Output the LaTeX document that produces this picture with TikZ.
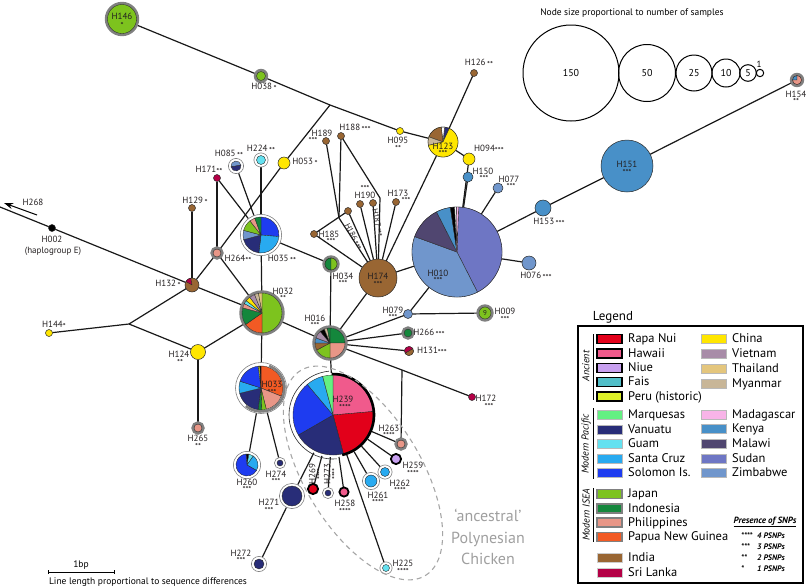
\documentclass[tikz,border=0pt]{standalone}
\usepackage{fontspec}
\setmainfont{PT Sans}
\usetikzlibrary{arrows.meta}
\definecolor{rapanui}{RGB}{226,0,26}
\definecolor{hawaii}{RGB}{240,90,140}
\definecolor{niue}{RGB}{200,160,240}
\definecolor{fais}{RGB}{80,190,200}
\definecolor{peru}{RGB}{220,240,40}
\definecolor{marq}{RGB}{100,240,130}
\definecolor{vanuatu}{RGB}{40,45,120}
\definecolor{guam}{RGB}{100,225,240}
\definecolor{santacruz}{RGB}{40,170,240}
\definecolor{solomon}{RGB}{30,60,240}
\definecolor{japan}{RGB}{125,195,30}
\definecolor{indonesia}{RGB}{20,135,60}
\definecolor{philip}{RGB}{232,150,135}
\definecolor{png}{RGB}{242,90,36}
\definecolor{india}{RGB}{153,102,51}
\definecolor{srilanka}{RGB}{180,0,70}
\definecolor{china}{RGB}{255,230,0}
\definecolor{vietnam}{RGB}{168,140,168}
\definecolor{thailand}{RGB}{228,198,125}
\definecolor{myanmar}{RGB}{200,182,152}
\definecolor{madag}{RGB}{248,180,232}
\definecolor{kenya}{RGB}{72,144,200}
\definecolor{malawi}{RGB}{80,70,112}
\definecolor{sudan}{RGB}{110,118,196}
\definecolor{zimb}{RGB}{112,150,204}
\definecolor{ringgray}{RGB}{128,128,128}
\definecolor{pieline}{RGB}{40,40,40}
\definecolor{labcol}{RGB}{35,31,32}
\pgfdeclarelayer{background}
\pgfsetlayers{background,main}
\newcommand\pieS[3]{%
  \foreach \pa/\pb/\pc in {#3}{%
    \filldraw[fill=\pc, draw=pieline, line width=0.35pt, line join=round]
      (#1.center) -- ++(\pa:#2pt) arc[start angle=\pa, end angle=\pb, radius=#2pt] -- cycle;}}
\newcommand\diskS[3]{\filldraw[fill=#3, draw=pieline, line width=0.4pt] (#1.center) circle[radius=#2pt];}
\newcommand\ringS[2]{\draw[pieline, line width=0.35pt] (#1.center) circle[radius=#2pt];}
\newcommand\sts[1]{\raisebox{-1.6pt}{\fontsize{8.5}{9}\selectfont #1}}
\tikzset{
 hapA/.style={circle, inner sep=0pt, outer sep=0pt, draw=pieline, line width=0.5pt},
 hapG/.style={circle, inner sep=0pt, outer sep=0pt, draw=ringgray, line width=2.6pt},
 hapW/.style={circle, inner sep=0pt, outer sep=0pt, draw=ringgray, line width=0.6pt, fill=white},
 hapB/.style={circle, inner sep=0pt, outer sep=0pt, draw=black, line width=1.8pt},
 edge/.style={line width=1.2pt, draw=black!90},
 lab/.style={inner sep=0pt, font=\fontsize{9}{10}\selectfont, text=labcol},
 star/.style={inner sep=0pt, font=\fontsize{8.5}{9}\selectfont, text=labcol},
 sz/.style={circle, draw=black, line width=1pt, inner sep=0pt, font=\fontsize{10}{11}\selectfont},
 legtxt/.style={inner sep=0pt, anchor=west, font=\fontsize{12.5}{14}\selectfont, text height=9pt, text depth=2pt},
}
\begin{document}
\begin{tikzpicture}[x=1pt,y=-1pt]
\useasboundingbox (0,0) rectangle (807,587);
% ---------- size legend
\node[font=\fontsize{9.5}{11}\selectfont, inner sep=0pt] (sizetitle) at (632,13) {Node size proportional to number of samples};
\node[sz, minimum size=96pt] (s150) at (571,73) {150};
\node[sz, minimum size=57pt] (s50) at (647,73) {50};
\node[sz, minimum size=36pt] (s25) at (694,73) {25};
\node[sz, minimum size=28pt] (s10) at (726,73) {10};
\node[sz, minimum size=16.6pt] (s5) at (748,73) {5};
\node[sz, minimum size=7.4pt] (s1) at (760,73) {};
\node[font=\fontsize{9}{10}\selectfont, inner sep=0pt] (s1lab) at (759,64) {1};
% ---------- junctions
\coordinate (J0) at (330,105);
\coordinate (J1) at (339,218);
\coordinate (J2) at (129,324);
\coordinate (J3) at (402,370);
\coordinate (J4) at (380,198);
\coordinate (Wend) at (0,207);
\coordinate (A1) at (37,215);
\coordinate (A2) at (4,203);
% ---------- plain nodes
\node[hapA, minimum size=7pt, fill=india] (H126) at (474,73) {};
\node[hapA, minimum size=7pt, fill=china] (H095) at (400,131) {};
\node[hapA, minimum size=30pt, fill=china] (H123) at (443,142) {};
\node[hapA, minimum size=12pt, fill=china] (H094) at (469,159) {};
\node[hapA, minimum size=10pt, fill=kenya] (H150) at (468,177) {};
\node[hapA, minimum size=10pt, fill=zimb] (H077) at (498,188) {};
\node[hapA, minimum size=7pt, fill=india] (H189) at (326,141) {};
\node[hapA, minimum size=7pt, fill=india] (H188) at (341,136) {};
\node[hapA, minimum size=12pt, fill=china] (H053) at (284,163) {};
\node[hapA, minimum size=7pt, fill=srilanka] (H171) at (217,178) {};
\node[hapA, minimum size=7pt, fill=india] (H129) at (192,208) {};
\node[hapA, minimum size=14pt, fill=india] (H132) at (192,285) {};
\node[hapA, minimum size=7pt, fill=black] (H002) at (52,228) {};
\node[hapA, minimum size=7pt, fill=china] (H144) at (49,333) {};
\node[hapA, minimum size=15pt, fill=china] (H124) at (198,352) {};
\node[hapA, minimum size=7pt, fill=india] (H185) at (314,234) {};
\node[hapA, minimum size=7pt, fill=india] (H186) at (348,211) {};
\node[hapA, minimum size=7pt, fill=india] (H190) at (360,204) {};
\node[hapA, minimum size=7pt, fill=india] (H187) at (373,203) {};
\node[hapA, minimum size=7pt, fill=india] (H173) at (396,202) {};
\node[hapA, minimum size=38pt, fill=india] (H174) at (378,278) {};
\node[hapA, minimum size=90pt, fill=white] (H010) at (457,252) {};
\node[hapA, minimum size=16pt, fill=kenya] (H153) at (543,208) {};
\node[hapA, minimum size=52pt, fill=kenya] (H151) at (627,166) {};
\node[hapA, minimum size=14pt, fill=zimb] (H076) at (529,263) {};
\node[hapA, minimum size=9pt, fill=zimb] (H079) at (408,314) {};
\node[hapA, minimum size=9pt, fill=india] (H131) at (409,351) {};
\node[hapA, minimum size=7pt, fill=srilanka] (H172) at (472,397) {};
% ---------- grey ring nodes
\node[hapG, minimum size=31.8pt, fill=japan] (H146) at (122,19) {};
\node[hapG, minimum size=11.8pt, fill=japan] (H038) at (261,76) {};
\node[hapG, minimum size=10.8pt, fill=philip] (H264) at (217,253) {};
\node[hapG, minimum size=10.8pt, fill=philip] (H265) at (198,428) {};
\node[hapG, minimum size=42.8pt, fill=white] (H032) at (262,313) {};
\node[hapG, minimum size=32.8pt, fill=white] (H016) at (330,343) {};
\node[hapG, minimum size=14.8pt, fill=japan] (H034) at (331,264) {};
\node[hapG, minimum size=14.8pt, fill=japan] (H009) at (485,313) {};
\node[hapG, minimum size=10.8pt, fill=indonesia] (H266) at (408,333) {};
\node[hapG, minimum size=10.8pt, fill=philip] (H263) at (401,444) {};
\node[hapG, minimum size=11.8pt, fill=philip] (H154) at (797,80) {};
% ---------- white ring nodes
\node[hapW, minimum size=15.2pt] (H085) at (236,166) {};
\node[hapW, minimum size=14.2pt] (H224) at (261,160) {};
\node[hapW, minimum size=41.2pt] (H035) at (261,235) {};
\node[hapW, minimum size=27.2pt] (H260) at (247,465) {};
\node[hapW, minimum size=11.2pt] (H274) at (280,463) {};
\node[hapW, minimum size=25.2pt] (H271) at (292,496) {};
\node[hapW, minimum size=15.2pt] (H272) at (259,564) {};
\node[hapW, minimum size=11.2pt] (H273) at (328,493) {};
\node[hapW, minimum size=12.2pt] (H225) at (386,568) {};
\node[hapW, minimum size=17.2pt] (H261) at (371,481) {};
\node[hapW, minimum size=14.2pt] (H262) at (385,472) {};
\node[hapW, minimum size=51pt] (H033) at (261,388) {};
% ---------- black border nodes
\node[hapB, minimum size=10.2pt, fill=rapanui] (H269) at (313,489) {};
\node[hapB, minimum size=9.2pt, fill=hawaii] (H258) at (344,492) {};
\node[hapB, minimum size=10.2pt, fill=niue] (H259) at (396,459) {};
\node[circle, inner sep=0pt, minimum size=84pt, fill=white] (H239) at (333,415) {};
% ---------- inner contents
\foreach \n/\r in {H146/14.5, H038/4.5, H264/4, H265/4, H034/6, H009/6, H266/4, H263/4, H154/4.5}{\ringS{\n}{\r}}
\pieS{H085}{5}{10/190/zimb, 190/370/vanuatu}
\diskS{H224}{4.5}{guam}
\pieS{H035}{18}{90/-5/solomon, -5/-97/santacruz, -97/-165/vanuatu, 195/165/zimb, 165/128/japan, 128/110/philip, 110/90/indonesia}
\pieS{H260}{11}{95/80/black, 80/55/guam, 55/-30/santacruz, -30/-265/solomon}
\diskS{H274}{3}{vanuatu}
\diskS{H271}{10}{vanuatu}
\diskS{H272}{5}{vanuatu}
\diskS{H273}{3}{vanuatu}
\diskS{H225}{3.5}{guam}
\diskS{H261}{6}{santacruz}
\diskS{H262}{4.5}{santacruz}
\pieS{H033}{22}{90/-22/png, -22/-76/philip, -76/-88/japan, -88/-98/indonesia, -98/-166/vanuatu, 194/162/santacruz, 162/97/solomon, 97/93/peru, 93/90/black}
\draw[ringgray, line width=2.6pt] ([shift={(70:23.5pt)}]H033.center) arc[start angle=70, end angle=-130, radius=23.5pt];
\pieS{H032}{20}{90/-90/japan, -90/-145/png, -145/-195/indonesia, 165/152/philip, 152/142/guam, 142/128/china, 128/112/vietnam, 112/100/myanmar, 100/90/thailand}
\pieS{H016}{15}{90/0/indonesia, 0/-90/philip, -90/-152/japan, 208/180/india, 180/160/kenya, 160/130/vietnam, 130/112/black, 112/100/myanmar, 100/90/indonesia}
\pieS{H034}{6}{90/270/indonesia, -90/90/japan}
\pieS{H123}{15}{65/84/vanuatu, 84/97/white, 97/160/india, 160/193/myanmar, 193/425/china}
\pieS{H010}{45}{88/-63/sudan, -63/-200/zimb, 160/117/malawi, 117/98.5/kenya, 98.5/93/black, 93/90.5/white, 90.5/88/madag}
\pieS{H132}{7}{100/150/srilanka}
\pieS{H154}{4.5}{90/180/kenya, 180/450/philip}
\pieS{H131}{4.5}{30/210/srilanka, 210/390/india}
\pieS{H239}{40}{90/5/hawaii, 5/-75/rapanui, -75/-150/vanuatu, 210/130/solomon, 130/105/santacruz, 105/90/marq}
\draw[black, line width=2.6pt] ([shift={(92:41pt)}]H239.center) arc[start angle=92, end angle=-77, radius=41pt];
\draw[pieline, line width=0.6pt] ([shift={(95:44pt)}]H239.center) arc[start angle=95, end angle=275, radius=44pt];
\node[font=\fontsize{7}{7}\selectfont, inner sep=0pt, text=labcol] (H009n) at (H009) {9};
% ---------- edges
\begin{pgfonlayer}{background}
\draw[edge] (H146) -- (H038);
\draw[edge] (H038) -- (J0) -- (H095) -- (H123);
\draw[edge] (J0) -- (H053) -- (H264);
\draw[edge] (H123) -- (H126);
\draw[edge] (H123) -- (H094);
\draw[edge] (H123) -- (H174);
\draw[edge] (H094) -- (H010);
\draw[edge] (H150) -- (H010);
\draw[edge] (H077) -- (H010);
\draw[edge] (H010) -- (H153) -- (H151) -- (H154);
\draw[edge] (H010) -- (H076);
\draw[edge] (H010) -- (H079);
\draw[edge] (H010) -- (H174);
\draw[edge] (H079) -- (H009);
\draw[edge] (H079) -- (H016);
\draw[edge] (H016) -- (H266);
\draw[edge] (H016) -- (H131);
\draw[edge] (H016) -- (J3) -- (H172);
\draw[edge] (J3) -- (H263);
\draw[edge] (H263) -- (H239);
\draw[edge] (H016) -- (H174);
\draw[edge] (H016) -- (H034) -- (H035);
\draw[edge] (H016) -- (H032);
\draw[edge] (H016) -- (H239);
\draw[edge] (H035) -- (H171);
\draw[edge] (H035) -- (H085);
\draw[edge] (H035) -- (H224);
\draw[edge] (H035) -- (H032);
\draw[edge] (H171) -- (H264);
\draw[edge] (H264) -- (H132);
\draw[edge] (H264) -- (H032);
\draw[edge] (H132) -- (H129);
\draw[edge] (Wend) -- (H002) -- (H132);
\draw[edge] (H132) -- (H032);
\draw[edge] (H132) -- (J2) -- (H144);
\draw[edge] (J2) -- (H124) -- (H032);
\draw[edge] (H124) -- (H265);
\draw[edge] (H032) -- (H033);
\draw[edge] (H033) -- (H260);
\draw[edge] (H033) -- (H274);
\draw[edge] (H239) -- (H271) -- (H272);
\foreach \t in {H269,H273,H258,H225,H261,H262,H259}{\draw[edge] (H239) -- (\t);}
\draw[edge] (H189) -- (J1) -- (H174);
\draw[edge] (H188) -- (J1);
\draw[edge] (H188) -- (J4) -- (H174);
\draw[edge] (H185) -- (H186);
\draw[edge] (H185) -- (H174);
\foreach \t in {H186,H190,H187,H173}{\draw[edge] (\t) -- (H174);}
\end{pgfonlayer}
\draw[line width=1pt, -{Stealth[length=9pt, width=6pt]}] (A1) -- (A2);
% ---------- ancestral ellipse
\draw[gray!70, line width=1.1pt, dash pattern=on 5pt off 4pt, rotate around={-58.7:(363,473)}] (363,473) ellipse [x radius=120pt, y radius=58pt];
\node[font=\fontsize{16}{21.5}\selectfont, text=gray!75, align=center, inner sep=0pt] (anctext) at (488,537) {`ancestral'\\Polynesian\\Chicken};
% ---------- labels
\node[lab] (lH146) at (122,16) {H146};
\node[star] (sH146) at (122,25) {*};
\node[lab] (lH038) at (264,87) {H038\,\sts{*}};
\node[lab] (lH126) at (479,63) {H126\,\sts{**}};
\node[lab] (lH095) at (398,140) {H095};
\node[star] (sH095) at (398,148) {**};
\node[lab] (lH123) at (443,146) {H123};
\node[star] (sH123) at (443,153) {***};
\node[lab] (lH094) at (489,149) {H094\sts{***}};
\node[lab] (lH150) at (483,171) {H150};
\node[star] (sH150) at (484,178) {***};
\node[lab] (lH077) at (509,179) {H077};
\node[star] (sH077) at (511,186) {***};
\node[lab] (lH189) at (322,133) {H189};
\node[star] (sH189) at (313,140) {***};
\node[lab] (lH188) at (355,128) {H188\,\sts{***}};
\node[lab] (lH053) at (305,162) {H053\,\sts{*}};
\node[lab] (lH171) at (209,170) {H171\sts{**}};
\node[lab] (lH085) at (229,154) {H085\,\sts{**}};
\node[lab] (lH224) at (261,149) {H224\,\sts{**}};
\node[lab] (lH129) at (195,201) {H129\,\sts{*}};
\node[lab] (lH035) at (282,259) {H035\,\sts{**}};
\node[lab] (lH264) at (238,259) {H264\sts{**}};
\node[lab] (lH132) at (168,284) {H132\,\sts{*}};
\node[lab] (lH002) at (52,239) {H002};
\node[lab] (lH002b) at (53,251) {(haplogroup E)};
\node[lab] (lH268) at (33,202) {H268};
\node[lab] (lH144) at (54,325) {H144\sts{*}};
\node[lab] (lH124) at (179,354) {H124};
\node[star] (sH124) at (180,362) {**};
\node[lab] (lH265) at (198,438) {H265};
\node[star] (sH265) at (198,446) {**};
\node[lab] (lH032) at (283,291) {H032};
\node[star] (sH032) at (283,298) {**};
\node[lab] (lH033) at (272,384) {H033};
\node[star] (sH033) at (272,392) {***};
\node[lab] (lH016) at (315,318) {H016};
\node[star] (sH016) at (315,325) {***};
\node[lab] (lH034) at (343,276) {H034};
\node[star] (sH034) at (343,283) {***};
\node[lab] (lH185) at (329,234) {H185};
\node[star] (sH185) at (331,241) {***};
\node[lab] (lH190) at (365,195) {H190};
\node[star] (sH190) at (365,188) {***};
\node[lab, font=\fontsize{8}{9}\selectfont, rotate=-63] (lH186) at (353,237) {H186\,\sts{***}};
\node[lab, font=\fontsize{8}{9}\selectfont, rotate=-78] (lH187) at (377,223) {H187\,\sts{***}};
\node[lab] (lH173) at (398,193) {H173};
\node[star] (sH173) at (406,200) {***};
\node[lab] (lH174) at (378,276) {H174};
\node[star] (sH174) at (378,284) {***};
\node[lab] (lH010) at (438,273) {H010};
\node[star] (sH010) at (438,280) {***};
\node[lab] (lH153) at (549,222) {H153\,\sts{***}};
\node[lab] (lH151) at (627,164) {H151};
\node[star] (sH151) at (627,172) {***};
\node[lab] (lH154) at (796,94) {H154};
\node[star] (sH154) at (796,101) {**};
\node[lab] (lH076) at (536,276) {H076\,\sts{***}};
\node[lab] (lH079) at (393,310) {H079};
\node[star] (sH079) at (393,317) {***};
\node[lab] (lH009) at (505,311) {H009};
\node[star] (sH009) at (505,319) {***};
\node[lab] (lH266) at (429,333) {H266\,\sts{***}};
\node[lab] (lH131) at (432,351) {H131\sts{***}};
\node[lab] (lH172) at (486,398) {H172};
\node[star] (sH172) at (489,406) {***};
\node[lab] (lH263) at (389,428) {H263};
\node[star] (sH263) at (389,435) {****};
\node[lab] (lH239) at (343,399) {H239};
\node[star] (sH239) at (345,407) {****};
\node[lab] (lH259) at (413,465) {H259};
\node[star] (sH259) at (413,473) {****};
\node[lab] (lH262) at (400,483) {H262};
\node[star] (sH262) at (400,490) {****};
\node[lab] (lH261) at (378,495) {H261};
\node[star] (sH261) at (378,502) {****};
\node[lab] (lH225) at (403,563) {H225};
\node[star] (sH225) at (403,571) {****};
\node[lab] (lH258) at (345,503) {H258};
\node[star] (sH258) at (345,511) {****};
\node[lab, rotate=90, align=center] (lH269) at (316,474) {H269\\[-4pt]\sts{****}};
\node[lab, rotate=90, align=center] (lH273) at (331,474) {H273\\[-4pt]\sts{****}};
\node[lab] (lH271) at (269,502) {H271};
\node[star] (sH271) at (269,510) {***};
\node[lab] (lH272) at (241,553) {H272};
\node[star] (sH272) at (241,560) {***};
\node[lab] (lH260) at (247,482) {H260};
\node[star] (sH260) at (247,489) {***};
\node[lab] (lH274) at (276,474) {H274};
\node[star] (sH274) at (276,481) {***};
% ---------- scale bar
\coordinate (sb1) at (48,572);
\coordinate (sb2) at (114,572);
\draw[line width=0.8pt] (sb1) -- (sb2);
\draw[line width=0.8pt] ([yshift=2pt]sb1) -- ([yshift=-2pt]sb1);
\draw[line width=0.8pt] ([yshift=2pt]sb2) -- ([yshift=-2pt]sb2);
\node[font=\fontsize{9.5}{11}\selectfont, inner sep=0pt] (bp) at (81,565) {1bp};
\node[font=\fontsize{9.5}{11}\selectfont, inner sep=0pt] (lenlab) at (148,582) {Line length proportional to sequence differences};
% ---------- legend
\node[font=\fontsize{13}{15}\selectfont, inner sep=0pt] (legtitle) at (613,317) {Legend};
\draw[line width=1.5pt] (578,326) rectangle (803,583);
\foreach \nm/\yy/\cc/\dc/\lw [count=\i] in {
 Rapa Nui/339/rapanui/black/1.4, Hawaii/353.5/hawaii/black/1.4, Niue/368/niue/black/1.4,
 Fais/382/fais/black/1.4, Peru (historic)/396.5/peru/black/1.4,
 Marquesas/415/marq/gray!55/1.0, Vanuatu/429.5/vanuatu/gray!55/1.0, Guam/444/guam/gray!55/1.0,
 Santa Cruz/458.5/santacruz/gray!55/1.0, Solomon Is./473/solomon/gray!55/1.0,
 Japan/494/japan/ringgray/1.5, Indonesia/508.5/indonesia/ringgray/1.5,
 Philippines/522.5/philip/ringgray/1.5, Papua New Guinea/537/png/ringgray/1.5,
 India/558/india/gray!40/0.5, Sri Lanka/573/srilanka/gray!40/0.5}{
  \node[draw=\dc, line width=\lw pt, fill=\cc, minimum width=25pt, minimum height=9pt, inner sep=0pt] (swL\i) at (609.5,\yy) {};
  \node[legtxt] (ltL\i) at (628,\yy) {\nm};
}
\foreach \nm/\yy/\cc [count=\i] in {
 China/339/china, Vietnam/354/vietnam, Thailand/369/thailand, Myanmar/384/myanmar,
 Madagascar/414.5/madag, Kenya/429/kenya, Malawi/443.5/malawi, Sudan/458.5/sudan, Zimbabwe/473/zimb}{
  \node[draw=gray!55, line width=1pt, fill=\cc, minimum width=25pt, minimum height=9pt, inner sep=0pt] (swR\i) at (713.5,\yy) {};
  \node[legtxt] (ltR\i) at (732,\yy) {\nm};
}
\node[rotate=90, inner sep=0pt, font=\itshape\fontsize{10}{11}\selectfont] (gAnc) at (586,366) {Ancient};
\draw[line width=1pt] (593,334) -- (593,400);
\node[rotate=90, inner sep=0pt, font=\itshape\fontsize{10}{11}\selectfont] (gPac) at (586,444) {Modern Pacific};
\draw[line width=1pt] (593,408) -- (593,479);
\node[rotate=90, inner sep=0pt, font=\itshape\fontsize{10}{11}\selectfont] (gIsea) at (586,515) {Modern ISEA};
\draw[line width=1pt] (593,488) -- (593,542);
\node[inner sep=0pt, font=\bfseries\itshape\fontsize{9}{10}\selectfont] (snpt) at (765,522) {\underline{Presence of SNPs}};
\foreach \s/\t/\yy [count=\i] in {****/4 PSNPs/536, ***/3 PSNPs/547, **/2 PSNPs/558, */1 PSNPs/569}{
  \node[inner sep=0pt, anchor=west, font=\bfseries\itshape\fontsize{8}{9}\selectfont] (snps\i) at (741,\yy) {\s};
  \node[inner sep=0pt, anchor=west, font=\bfseries\itshape\fontsize{8}{9}\selectfont] (snpt\i) at (757,\yy) {\t};
}
\end{tikzpicture}
\end{document}
